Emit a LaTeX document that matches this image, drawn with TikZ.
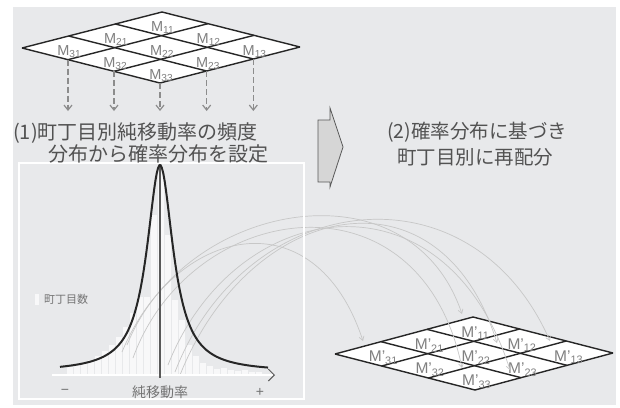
\documentclass[tikz,border=0pt]{standalone}
\usepackage{fontspec}
\setmainfont{Noto Sans CJK JP}
\newfontfamily\latin{Liberation Sans}
\usetikzlibrary{arrows.meta,calc,positioning}
\definecolor{bund}{HTML}{E8E9EB}
\definecolor{blokfarve}{HTML}{D6D6D6}
\tikzset{
    >={Straight Barb[length=5pt,width=8pt]},
    gitter/.style={
           draw=black!85,
           line width=1.4pt,
           line join=round},
    rute/.style={
           text=black!50,
           inner sep=0pt,
           font=\latin\fontsize{14.5}{16}\selectfont},
    stiplet/.style={
           ->,
           draw=black!45,
           line width=1.2pt,
           dash pattern=on 6pt off 3pt},
    bue/.style={
           -{Straight Barb[length=4pt,width=5pt]},
           draw=black!22,
           line width=0.7pt},
    soejle/.style={fill=white!70!bund},
    tekst/.style={
           text=black!68,
           inner sep=0pt,
           font=\fontsize{20}{24}\selectfont},
    lille/.style={
           text=black!55,
           inner sep=0pt}
}

\begin{document}
\begin{tikzpicture}[x=1pt, y=-1pt]
    \useasboundingbox (0,0) rectangle (620,407);
    \fill[bund] (13,7) rectangle (616,405);

    % histogram
    \foreach \a/\h in {67/367, 74/365, 81/363, 88/360, 95/356, 102/351, 109/345,
                       116/337, 123/327, 130/313, 137/297, 144/297, 151/215, 158/168,
                       165/235, 172/300, 179/320, 186/345, 193/356, 200/363, 207/366,
                       214/369, 221/368, 228/370, 235/371, 242/370, 249/372, 256/372}
        \fill[soejle] (\a,375) rectangle ({\a+6.4},\h);
    \fill[soejle] (35,294) rectangle (39,305);
    \node[lille, anchor=west, font=\fontsize{11}{13}\selectfont] (antal) at (44,299) {町丁目数};

    % grid after
    \coordinate (eT) at (473,317);
    \coordinate (eL) at (335,354);
    \coordinate (eR) at (613,353);
    \coordinate (eB) at ($(eL)+(eR)-(eT)$);
    \coordinate (eu) at ($1/3*(eL)-1/3*(eT)$);
    \coordinate (ev) at ($1/3*(eR)-1/3*(eT)$);
    \fill[white] (eT) -- (eR) -- (eB) -- (eL) -- cycle;
    \foreach \k in {0,...,3} {
        \draw[gitter] ($(eT)!\k/3!(eL)$) -- ($(eR)!\k/3!(eB)$);
        \draw[gitter] ($(eT)!\k/3!(eR)$) -- ($(eL)!\k/3!(eB)$);
    }
    \foreach \i in {1,2,3} {
        \foreach \j in {1,2,3} {
            \node[rute, font=\latin\fontsize{15.5}{17}\selectfont] (e\i\j)
                at ($(eT)+{\i-0.5}*(eu)+{\j-0.5}*(ev)+(2,4)$) {M’\textsubscript{\i\j}};
        }
    }

    % arcs
    \coordinate (s1) at (122,352); \coordinate (e1) at (363,341);
    \coordinate (s2) at (127,345); \coordinate (e2) at (462,314);
    \coordinate (s3) at (133,358); \coordinate (e3) at (462,368);
    \coordinate (s4) at (168,365); \coordinate (e4) at (510,370);
    \coordinate (s5) at (175,372); \coordinate (e5) at (550,341);
    \coordinate (s6) at (180,375); \coordinate (e6) at (497,343);
    \draw[bue] (s1) .. controls (175,225) and (315,195) .. (e1);
    \draw[bue] (s2) .. controls (185,200) and (410,160) .. (e2);
    \draw[bue] (s3) .. controls (190,200) and (420,165) .. (e3);
    \draw[bue] (s4) .. controls (235,195) and (445,165) .. (e4);
    \draw[bue] (s5) .. controls (245,190) and (470,160) .. (e5);
    \draw[bue] (s6) .. controls (250,200) and (440,160) .. (e6);

    % panel
    \draw[white, line width=1.5pt] (19,163) rectangle (304,399);

    % distribution
    \coordinate (akse0) at (52,375);
    \coordinate (akse1) at (275,375);
    \draw[white, line width=1.5pt,
          -{Straight Barb[length=6pt,width=12pt,color=black!65,line width=1pt]}] (akse0) -- (akse1);
    \draw[black!65, line width=1.2pt] (160,164) -- (160,378);
    \draw[black!85, line width=2pt] plot[domain=60:268, samples=160] (\x,{372-207/(1+((\x-160)/16)^2)});
    \node[lille, font=\latin\fontsize{14}{16}\selectfont] (minus) at (65,392) {−};
    \node[lille, font=\fontsize{14}{16}\selectfont] (rate) at (160,392) {純移動率};
    \node[lille, font=\latin\fontsize{14}{16}\selectfont] (plus) at (260,392) {+};

    % grid before
    \coordinate (fT) at (162,12);
    \coordinate (fL) at (22,48);
    \coordinate (fR) at (300,47);
    \coordinate (fB) at ($(fL)+(fR)-(fT)$);
    \coordinate (fu) at ($1/3*(fL)-1/3*(fT)$);
    \coordinate (fv) at ($1/3*(fR)-1/3*(fT)$);
    \fill[white] (fT) -- (fR) -- (fB) -- (fL) -- cycle;
    \foreach \k in {0,...,3} {
        \draw[gitter] ($(fT)!\k/3!(fL)$) -- ($(fR)!\k/3!(fB)$);
        \draw[gitter] ($(fT)!\k/3!(fR)$) -- ($(fL)!\k/3!(fB)$);
    }
    \foreach \i in {1,2,3} {
        \foreach \j in {1,2,3} {
            \node[rute] (f\i\j) at ($(fT)+{\i-0.5}*(fu)+{\j-0.5}*(fv)+(1,4)$) {M\textsubscript{\i\j}};
        }
    }
    \coordinate (d1) at ($(fL)!1/3!(fB)$);
    \coordinate (d2) at ($(fL)!2/3!(fB)$);
    \coordinate (d3) at (fB);
    \coordinate (d4) at ($(fB)!1/3!(fR)$);
    \coordinate (d5) at ($(fB)!2/3!(fR)$);
    \coordinate (pilbund) at (0,111);
    \foreach \n in {1,...,5}
        \draw[stiplet] (d\n) -- (d\n |- pilbund);

    % block arrow
    \filldraw[fill=blokfarve, draw=black!65, line width=0.8pt]
        (318,120) -- (330,120) -- (330,108) -- (343,147) -- (330,187) -- (330,182) -- (318,182) -- cycle;

    % texts
    \node[tekst, anchor=west] (trin1a) at (13,133) {(1)町丁目別純移動率の頻度};
    \node[tekst, anchor=west] (trin1b) at (48,154) {分布から確率分布を設定};
    \node[tekst, font=\fontsize{19.5}{23}\selectfont] (trin2a) at (477,132) {(2)確率分布に基づき};
    \node[tekst, font=\fontsize{19.5}{23}\selectfont] (trin2b) at (475,157) {町丁目別に再配分};
\end{tikzpicture}
\end{document}
